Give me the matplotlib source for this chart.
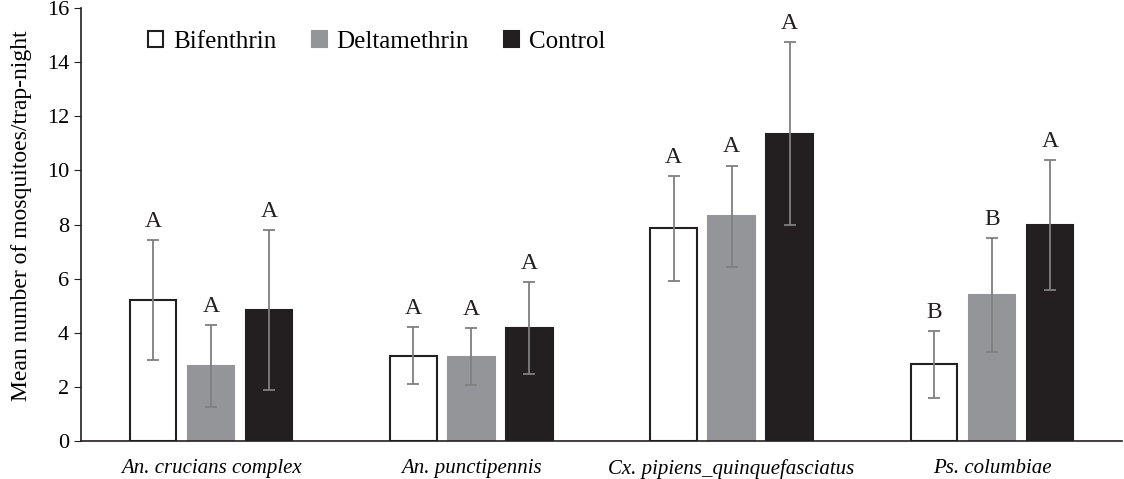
import matplotlib
matplotlib.use("Agg")
import matplotlib.pyplot as plt
import numpy as np

# data
species = ["An. crucians complex", "An. punctipennis",
           "Cx. pipiens_quinquefasciatus", "Ps. columbiae"]
treatments = ["Bifenthrin", "Deltamethrin", "Control"]

bifenthrin = [5.21, 3.15, 7.86, 2.83]
deltamethrin = [2.77, 3.12, 8.30, 5.40]
control = [4.84, 4.17, 11.35, 7.98]

bifenthrin_err = [2.22, 1.05, 1.94, 1.23]
deltamethrin_err = [1.53, 1.05, 1.88, 2.10]
control_err = [2.95, 1.70, 3.38, 2.40]

bifenthrin_letters = ["A", "A", "A", "B"]
deltamethrin_letters = ["A", "A", "A", "B"]
control_letters = ["A", "A", "A", "A"]

serif = ["Liberation Serif", "DejaVu Serif"]
plt.rcParams["font.family"] = serif

fig = plt.figure(figsize=(11.24, 4.79), dpi=100)
ax = fig.add_axes([81 / 1124, 1 - 441 / 479, 1041 / 1124, 433 / 479])

x = np.arange(len(species))
step = 0.223
width = 0.178

series = [
    (bifenthrin, bifenthrin_err, bifenthrin_letters, "white", "#231f20"),
    (deltamethrin, deltamethrin_err, deltamethrin_letters, "#939598", "#939598"),
    (control, control_err, control_letters, "#231f20", "#231f20"),
]

for i, (vals, errs, letters, fc, ec) in enumerate(series):
    pos = x + (i - 1) * step
    ax.bar(pos, vals, width, color=fc, edgecolor=ec, linewidth=1.5,
           label=treatments[i], zorder=2)
    ax.errorbar(pos, vals, yerr=errs, fmt="none", ecolor="#7f7f7f",
                elinewidth=1.3, capsize=4, capthick=1.3, zorder=3)
    for p, v, e, t in zip(pos, vals, errs, letters):
        ax.text(p, v + e + 0.3, t, ha="center", va="bottom", fontsize=17,
                color="#231f20")

ax.set_xlim(-0.5, 3.5)
ax.set_ylim(0, 16)
ax.set_yticks(np.arange(0, 17, 2))
ax.set_xticks(x)
ax.set_xticklabels(species, fontsize=15, style="italic")
ax.tick_params(axis="x", length=0, pad=13)
ax.tick_params(axis="y", labelsize=16, length=5, color="#231f20", direction="out")
ax.set_ylabel("Mean number of mosquitoes/trap-night", fontsize=17, labelpad=11)
ax.yaxis.label.set_y(0.52)

for s in ["top", "right"]:
    ax.spines[s].set_visible(False)
for s in ["left", "bottom"]:
    ax.spines[s].set_color("#231f20")
    ax.spines[s].set_linewidth(1.2)

ax.legend(loc="upper left", bbox_to_anchor=(0.043, 1.0), ncol=3, frameon=False,
          prop={"family": serif, "size": 18}, handlelength=0.6, handleheight=0.6,
          handletextpad=0.4, columnspacing=1.4)

fig.savefig("out.png", dpi=100)
